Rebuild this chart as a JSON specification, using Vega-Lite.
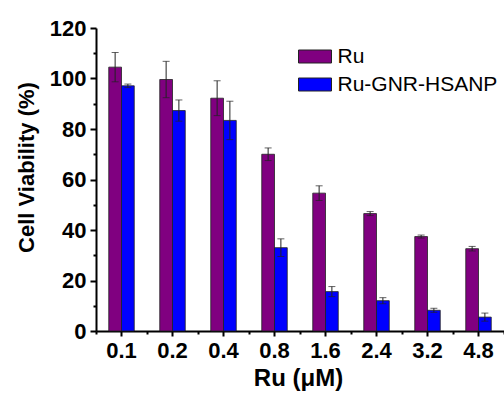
{
  "$schema": "https://vega.github.io/schema/vega-lite/v6.json",
  "width": 408,
  "height": 303,
  "autosize": "none",
  "padding": {"left": 96, "top": 28, "right": 0, "bottom": 63},
  "config": {
    "view": {"stroke": null},
    "font": "Liberation Sans",
    "legend": {
      "orient": "none",
      "legendX": 208.5,
      "legendY": 18,
      "padding": 0,
      "labelFont": "Liberation Sans",
      "labelFontSize": 21,
      "labelColor": "#000",
      "labelOffset": 12,
      "rowPadding": 6,
      "symbolType": "M-1.65,-0.65H1.65V0.65H-1.65Z",
      "symbolSize": 400,
      "symbolStrokeColor": "#222",
      "symbolStrokeWidth": 1,
      "symbolOpacity": 1
    }
  },
  "data": {
    "values": [
      {"conc": "0.1", "series": "Ru", "mean": 104.5, "lo": 98.7, "hi": 110.3},
      {"conc": "0.1", "series": "Ru-GNR-HSANP", "mean": 97.1, "lo": 96.4, "hi": 97.8},
      {"conc": "0.2", "series": "Ru", "mean": 99.6, "lo": 92.4, "hi": 106.8},
      {"conc": "0.2", "series": "Ru-GNR-HSANP", "mean": 87.3, "lo": 83.1, "hi": 91.5},
      {"conc": "0.4", "series": "Ru", "mean": 92.2, "lo": 85.3, "hi": 99.1},
      {"conc": "0.4", "series": "Ru-GNR-HSANP", "mean": 83.4, "lo": 75.8, "hi": 91.0},
      {"conc": "0.8", "series": "Ru", "mean": 70.0, "lo": 67.5, "hi": 72.5},
      {"conc": "0.8", "series": "Ru-GNR-HSANP", "mean": 33.0, "lo": 29.5, "hi": 36.5},
      {"conc": "1.6", "series": "Ru", "mean": 54.6, "lo": 51.7, "hi": 57.5},
      {"conc": "1.6", "series": "Ru-GNR-HSANP", "mean": 15.6, "lo": 13.6, "hi": 17.6},
      {"conc": "2.4", "series": "Ru", "mean": 46.5, "lo": 45.7, "hi": 47.3},
      {"conc": "2.4", "series": "Ru-GNR-HSANP", "mean": 12.0, "lo": 10.8, "hi": 13.2},
      {"conc": "3.2", "series": "Ru", "mean": 37.4, "lo": 36.8, "hi": 38.0},
      {"conc": "3.2", "series": "Ru-GNR-HSANP", "mean": 8.2, "lo": 7.4, "hi": 9.0},
      {"conc": "4.8", "series": "Ru", "mean": 32.6, "lo": 31.7, "hi": 33.5},
      {"conc": "4.8", "series": "Ru-GNR-HSANP", "mean": 5.5, "lo": 3.9, "hi": 7.1}
    ]
  },
  "resolve": {"axis": {"x": "independent", "y": "independent"}},
  "layer": [
    {
      "mark": {"type": "bar", "stroke": "#222", "strokeWidth": 0.8},
      "encoding": {
        "x": {
          "field": "conc", "type": "ordinal",
          "scale": {"paddingInner": 0, "paddingOuter": 0},
          "axis": {
            "orient": "bottom",
            "title": "Ru (μM)",
            "titleFont": "Liberation Sans",
            "titleFontSize": 24,
            "titleFontWeight": "bold",
            "titleColor": "#000",
            "titleX": 202,
            "titleY": 54,
            "titleBaseline": "alphabetic",
            "labelAngle": 0,
            "labelFont": "Liberation Sans",
            "labelFontSize": 22,
            "labelFontWeight": "bold",
            "labelColor": "#000",
            "labelPadding": 4,
            "tickSize": 5,
            "tickWidth": 2,
            "tickColor": "#000",
            "domainColor": "#000",
            "domainWidth": 2
          }
        },
        "xOffset": {"field": "series", "scale": {"paddingInner": 0, "paddingOuter": 1.44}},
        "y": {
          "field": "mean", "type": "quantitative",
          "scale": {"domain": [0, 120], "nice": false},
          "axis": {
            "orient": "left",
            "values": [0, 20, 40, 60, 80, 100, 120],
            "grid": false,
            "title": "Cell Viability (%)",
            "titleFont": "Liberation Sans",
            "titleFontSize": 22,
            "titleFontWeight": "bold",
            "titleColor": "#000",
            "titleX": -63,
            "titleY": 139,
            "titleBaseline": "alphabetic",
            "labelFont": "Liberation Sans",
            "labelFontSize": 22,
            "labelFontWeight": "bold",
            "labelColor": "#000",
            "labelPadding": 4,
            "tickSize": 6,
            "tickWidth": 2,
            "tickColor": "#000",
            "domainColor": "#000",
            "domainWidth": 2
          }
        },
        "color": {
          "field": "series", "type": "nominal",
          "scale": {"domain": ["Ru", "Ru-GNR-HSANP"], "range": ["#800080", "#0000ff"]},
          "legend": {"title": null}
        }
      }
    },
    {
      "mark": {"type": "rule", "color": "#222", "strokeWidth": 1},
      "encoding": {
        "x": {"field": "conc", "type": "ordinal", "axis": null},
        "xOffset": {"field": "series"},
        "y": {"field": "lo", "type": "quantitative", "axis": null},
        "y2": {"field": "hi"}
      }
    },
    {
      "mark": {"type": "tick", "color": "#222", "thickness": 1, "size": 7, "orient": "horizontal"},
      "encoding": {
        "x": {"field": "conc", "type": "ordinal", "axis": null},
        "xOffset": {"field": "series"},
        "y": {"field": "lo", "type": "quantitative", "axis": null}
      }
    },
    {
      "mark": {"type": "tick", "color": "#222", "thickness": 1, "size": 7, "orient": "horizontal"},
      "encoding": {
        "x": {"field": "conc", "type": "ordinal", "axis": null},
        "xOffset": {"field": "series"},
        "y": {"field": "hi", "type": "quantitative", "axis": null}
      }
    },
    {
      "mark": {"type": "tick", "opacity": 0},
      "encoding": {
        "x": {
          "field": "conc", "type": "ordinal",
          "axis": {
            "orient": "bottom",
            "tickBand": "extent",
            "labels": false,
            "domain": false,
            "title": null,
            "tickSize": 3,
            "tickWidth": 2,
            "tickColor": "#000"
          }
        },
        "y": {
          "field": "hi", "type": "quantitative",
          "axis": {
            "orient": "left",
            "values": [10, 30, 50, 70, 90, 110],
            "labels": false,
            "domain": false,
            "grid": false,
            "title": null,
            "tickSize": 3,
            "tickWidth": 2,
            "tickColor": "#000"
          }
        }
      }
    }
  ]
}
